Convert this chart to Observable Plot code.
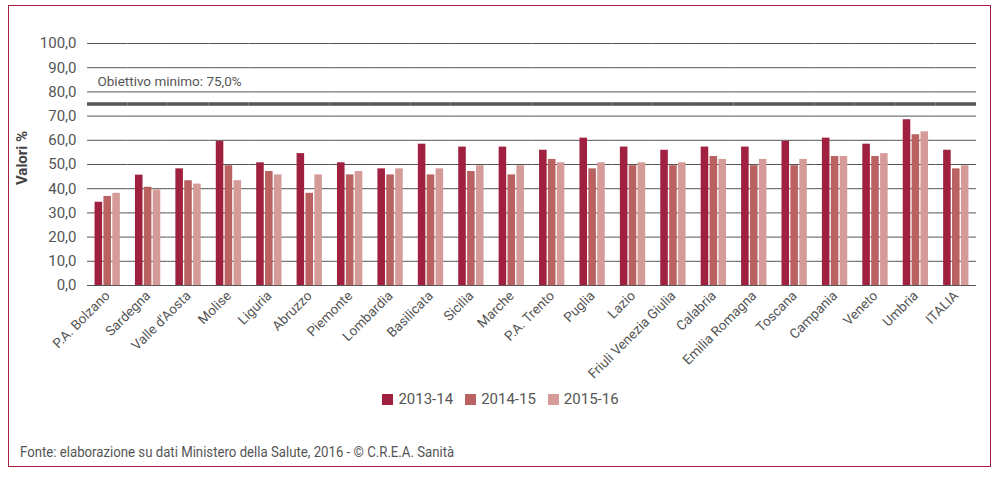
<!DOCTYPE html>
<html>
<head>
<meta charset="utf-8">
<script src="https://cdn.jsdelivr.net/npm/d3@7"></script>
<script src="https://cdn.jsdelivr.net/npm/@observablehq/plot@0.6"></script>
<style>
  html, body { margin: 0; padding: 0; background: #fff; }
  #wrap { position: relative; width: 1001px; height: 478px; overflow: hidden;
          font-family: Roboto, sans-serif; color: #555; }
  #frame { position: absolute; left: 8px; top: 5px; width: 981px; height: 460px;
           border: 1.5px solid #a6203f; box-sizing: content-box; }
  #chart { position: absolute; left: 0; top: 0; }
  #ylabel { position: absolute; left: 22px; top: 158px; transform: translate(-50%, -50%) rotate(-90deg);
            font-weight: bold; font-size: 15px; color: #444; white-space: nowrap; }
  #legend { position: absolute; left: 0; top: 390px; width: 1001px; display: flex; justify-content: center;
            font-size: 15px; color: #555; }
  #legend .item { display: flex; align-items: center; margin: 0 6px; }
  #legend .sw { width: 11px; height: 11px; margin-right: 5px; }
  #footer { position: absolute; left: 20px; top: 443px; font-size: 15px; color: #555; white-space: nowrap;
            transform: scaleX(0.88); transform-origin: left center; }
</style>
</head>
<body>
<div id="wrap">
  <div id="frame"></div>
  <div id="chart"></div>
  <div id="ylabel">Valori %</div>
  <div id="legend"></div>
  <div id="footer">Fonte: elaborazione su dati Ministero della Salute, 2016 - © C.R.E.A. Sanità</div>
</div>
<script>
const regions = ["P.A. Bolzano", "Sardegna", "Valle d'Aosta", "Molise", "Liguria", "Abruzzo", "Piemonte",
  "Lombardia", "Basilicata", "Sicilia", "Marche", "P.A. Trento", "Puglia", "Lazio", "Friuli Venezia Giulia",
  "Calabria", "Emilia Romagna", "Toscana", "Campania", "Veneto", "Umbria", "ITALIA"];
const series = ["2013-14", "2014-15", "2015-16"];
const colors = ["#a0213f", "#b96261", "#d49b98"];
const v2013 = [34.4, 45.6, 48.2, 59.6, 50.7, 54.5, 50.7, 48.2, 58.4, 57.2, 57.2, 55.9, 60.9, 57.2, 55.9, 57.2, 57.2, 59.6, 60.9, 58.4, 68.5, 55.9];
const v2014 = [36.8, 40.6, 43.3, 49.5, 47.1, 38.1, 45.7, 45.7, 45.7, 47.1, 45.7, 52.1, 48.2, 49.5, 49.5, 53.3, 49.5, 49.5, 53.3, 53.3, 62.3, 48.2];
const v2015 = [38.1, 39.5, 41.9, 43.3, 45.7, 45.7, 47.1, 48.2, 48.2, 49.5, 49.5, 50.7, 50.7, 50.7, 50.7, 52.1, 52.1, 52.1, 53.3, 54.5, 63.5, 49.5];
const yTicks = [0, 10, 20, 30, 40, 50, 60, 70, 80, 90, 100];
const target = 75;
const targetLabel = "Obiettivo minimo: 75,0%";

const valuesBySeries = [v2013, v2014, v2015];
const data = [];
regions.forEach((r, i) => series.forEach((s, j) => data.push({region: r, series: s, value: valuesBySeries[j][i]})));

const chart = Plot.plot({
  width: 1001,
  height: 388,
  marginLeft: 87,
  marginRight: 25,
  marginTop: 43,
  marginBottom: 103,
  style: {fontFamily: "Roboto, sans-serif", fontSize: "13.5px", color: "#555", background: "transparent", overflow: "visible"},
  fx: {domain: regions, padding: 0, round: false, label: null, tickRotate: -45, tickSize: 0, tickPadding: 8},
  x: {domain: series, axis: null, round: false, paddingInner: 0.15, paddingOuter: 0.85},
  y: {domain: [0, 100], ticks: yTicks, tickSize: 0, tickPadding: 11, label: null,
      tickFormat: d => d.toFixed(1).replace(".", ",")},
  color: {domain: series, range: colors},
  marks: [
    Plot.ruleY(yTicks, {stroke: "#555", strokeWidth: 1}),
    Plot.ruleY([target], {stroke: "#555", strokeWidth: 3.5}),
    Plot.barY(data, {fx: "region", x: "series", y: "value", fill: "series", inset: 0}),
    Plot.text([{region: regions[0], y: target, label: targetLabel}], {
      fx: "region", y: "y", text: "label", frameAnchor: "left", textAnchor: "start",
      dx: 10, dy: -22, fontSize: 13.5, fill: "#555"})
  ]
});
document.getElementById("chart").appendChild(chart);
// y tick labels slightly larger, as in the reference
chart.querySelectorAll("g[aria-label='y-axis tick label'] text").forEach(t => t.setAttribute("font-size", "15"));

const legend = document.getElementById("legend");
series.forEach((s, i) => {
  const item = document.createElement("div");
  item.className = "item";
  const sw = document.createElement("div");
  sw.className = "sw";
  sw.style.background = colors[i];
  const lab = document.createElement("span");
  lab.textContent = s;
  item.appendChild(sw);
  item.appendChild(lab);
  legend.appendChild(item);
});
</script>
</body>
</html>
